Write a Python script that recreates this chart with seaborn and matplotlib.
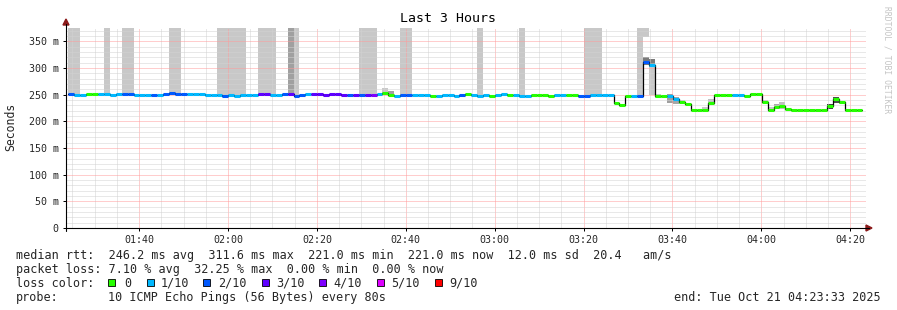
import numpy as np
import pandas as pd
import matplotlib
matplotlib.use("Agg")
import matplotlib.pyplot as plt
from matplotlib.patches import Rectangle, Polygon
from matplotlib.lines import Line2D
import seaborn as sns

# ---------------- data ----------------
start_min = 83 + 33 / 60          # 01:23:33 (minutes since midnight)
end_min = start_min + 180         # 04:23:33
step_min = 80 / 60                # 80 s probe step
first_step = start_min + 32 / 60

median_ms = [252, 250, 250, 251, 252, 251, 251, 249, 251, 251,
             251, 250, 250, 250, 249, 250, 251, 253, 251, 251,
             252, 252, 252, 250, 250, 250, 248, 250, 248, 249,
             249, 249, 251, 252, 250, 250, 251, 251, 248, 249,
             251, 251, 251, 250, 251, 251, 250, 250, 250, 250,
             250, 250, 251, 253, 250, 248, 249, 249, 249, 249,
             249, 248, 248, 250, 250, 248, 250, 252, 250, 248,
             250, 248, 250, 252, 250, 250, 248, 247, 249, 250,
             250, 248, 249, 250, 249, 249, 247, 247, 249, 249,
             249, 250, 234, 231, 248, 248, 248, 312, 306, 247,
             247, 247, 242, 237, 233, 221, 221, 221, 235, 250,
             250, 250, 250, 250, 247, 252, 252, 236, 221, 227,
             229, 224, 221, 221, 221, 221, 221, 221, 228, 242,
             236, 221, 221, 221]
loss = [2, 1, 1, 0, 0, 1, 1, 1, 1, 2,
        2, 1, 1, 1, 2, 1, 2, 2, 2, 2,
        1, 1, 1, 1, 1, 1, 2, 1, 1, 1,
        1, 1, 3, 3, 1, 1, 2, 3, 2, 2,
        1, 3, 3, 3, 3, 3, 3, 2, 3, 2,
        3, 4, 1, 0, 0, 1, 2, 2, 1, 1,
        1, 0, 1, 1, 1, 1, 2, 0, 1, 1,
        1, 0, 1, 1, 0, 1, 1, 1, 0, 0,
        0, 0, 1, 1, 0, 0, 2, 2, 1, 1,
        1, 1, 0, 0, 0, 1, 2, 2, 1, 0,
        0, 1, 1, 0, 0, 0, 0, 0, 0, 0,
        0, 0, 1, 1, 0, 0, 0, 0, 0, 0,
        0, 0, 0, 0, 0, 0, 0, 0, 0, 0,
        0, 0, 0, 0]

# steps where the slowest pings go off the top of the graph
high_steps = [0, 1, 6, 9, 10, 17, 18, 25, 26, 27, 28, 29, 32, 33, 34, 37, 38,
              49, 50, 51, 56, 57, 69, 76, 87, 88, 89, 96]
high_dark = [37]
# smoke patches: step, low ms, high ms, shade
smoke_step = [53, 54, 97, 97, 98, 98, 99, 101, 102, 103, 107, 108, 117, 118,
              119, 120, 128, 129, 130]
smoke_lo = [250, 250, 358, 305, 302, 250, 243, 234, 232, 232, 221, 235, 234,
            221, 223, 224, 223, 234, 232]
smoke_hi = [262, 257, 376, 321, 316, 302, 251, 251, 246, 240, 226, 242, 240,
            227, 232, 237, 232, 246, 238]
smoke_shade = ["#c8c8c8", "#a0a0a0", "#c8c8c8", "#7a7a7a", "#7a7a7a", "#c8c8c8",
               "#c8c8c8", "#a0a0a0", "#a8a8a8", "#c8c8c8", "#c8c8c8", "#c0c0c0",
               "#c0c0c0", "#c8c8c8", "#a8a8a8", "#c0c0c0", "#404040", "#505050",
               "#b0b0b0"]

loss_labels = ["0", "1/10", "2/10", "3/10", "4/10", "5/10", "9/10"]
loss_colors = ["#26ff00", "#00b8ff", "#0059ff", "#5e00ff", "#7e00ff", "#dd00ff", "#ff0000"]
loss_level_index = [0, 1, 2, 3, 4, 5, 9]

x_tick_min = [100, 120, 140, 160, 180, 200, 220, 240, 260]
x_tick_labels = ["01:40", "02:00", "02:20", "02:40", "03:00", "03:20", "03:40", "04:00", "04:20"]
y_ticks = [0, 50, 100, 150, 200, 250, 300, 350]
y_tick_labels = ["0", "50 m", "100 m", "150 m", "200 m", "250 m", "300 m", "350 m"]
y_top = 375

# ---------------- figure ----------------
sns.set_theme(style="white")
plt.rcParams["font.family"] = ["DejaVu Sans Mono", "DejaVu Sans"]

W, H = 897, 310
fig = plt.figure(figsize=(W / 100, H / 100), dpi=100)
fig.patch.set_facecolor("white")
ax = fig.add_axes([66 / W, (H - 228) / H, 800 / W, 200 / H])
ax.set_facecolor("white")


def fx(px):
    return px / W


def fy(py):
    return 1 - py / H


steps = first_step + np.arange(len(median_ms)) * step_min

# tall smoke bars
for k in high_steps:
    ax.bar(steps[k], y_top + 10 - median_ms[k], bottom=median_ms[k], width=step_min,
           align="edge", color="#a0a0a0" if k in high_dark else "#c8c8c8",
           linewidth=0, zorder=1)
# smaller smoke
for k, lo, hi, c in zip(smoke_step, smoke_lo, smoke_hi, smoke_shade):
    ax.bar(steps[k], hi - lo, bottom=lo, width=step_min, align="edge",
           color=c, linewidth=0, zorder=1.2)

# median line (black) via seaborn
df = pd.DataFrame({"t": np.append(steps, steps[-1] + step_min),
                   "ms": median_ms + [median_ms[-1]]})
sns.lineplot(data=df, x="t", y="ms", drawstyle="steps-post", color="black",
             lw=0.9, ax=ax, zorder=3, estimator=None)
# loss-coloured median segments
cols = [loss_colors[loss_level_index.index(l)] for l in loss]
ax.hlines(median_ms, steps, steps + step_min, colors=cols, lw=2.2, zorder=4)

ax.set_xlim(start_min, end_min)
ax.set_ylim(0, y_top)
ax.set_xlabel("")
ax.set_ylabel("")

ax.set_xticks(x_tick_min)
ax.set_xticklabels(x_tick_labels)
ax.set_xticks(np.arange(85, 264, 5), minor=True)
ax.set_yticks(y_ticks)
ax.set_yticklabels(y_tick_labels)
ax.set_yticks(np.arange(0, 371, 10), minor=True)

ax.tick_params(axis="both", which="major", labelsize=7.2, length=2.2, width=0.72,
               color="black", pad=3, direction="out", bottom=True, left=True)
ax.tick_params(axis="both", which="minor", length=0)

ax.set_axisbelow(False)
ax.grid(which="minor", color="#d2d2d2", linestyle=(0, (1, 1)), lw=0.72, zorder=2.5)
ax.grid(which="major", color="#ff9c9c", linestyle=(0, (1, 1)), lw=0.72, zorder=2.6)

for s in ax.spines.values():
    s.set_visible(False)

# axes lines and arrows
fig.add_artist(Line2D([fx(66), fx(869)], [fy(228), fy(228)], color="black", lw=0.8))
fig.add_artist(Line2D([fx(66), fx(66)], [fy(231), fy(24)], color="black", lw=0.8))
fig.add_artist(Polygon([[fx(866), fy(225)], [fx(866), fy(231)], [fx(872), fy(228)]],
                       closed=True, color="#8b1a1a", transform=fig.transFigure))
fig.add_artist(Polygon([[fx(63), fy(25)], [fx(69), fy(25)], [fx(66), fy(19)]],
                       closed=True, color="#8b1a1a", transform=fig.transFigure))

# titles
fig.text(fx(448), fy(19), "Last 3 Hours", ha="center", va="center", fontsize=9.5, color="black")
fig.text(fx(11), fy(127), "Seconds", rotation=90, ha="center", va="center", fontsize=8.3)
fig.text(fx(887), fy(60), "RRDTOOL / TOBI OETIKER", rotation=270, ha="center", va="center",
         fontsize=5.8, color="#c4c4c4")

# legend area
fs = 8.5
row_base = [258.5, 272.5, 286.8, 300.8]
fig.text(fx(16), fy(row_base[0]),
         "median rtt:  246.2 ms avg  311.6 ms max  221.0 ms min  221.0 ms now  12.0 ms sd  20.4   am/s",
         ha="left", va="baseline", fontsize=fs)
fig.text(fx(16), fy(row_base[1]),
         "packet loss: 7.10 % avg  32.25 % max  0.00 % min  0.00 % now",
         ha="left", va="baseline", fontsize=fs)
fig.text(fx(16), fy(row_base[2]), "loss color:", ha="left", va="baseline", fontsize=fs)
sq_x = [108, 147, 203, 262, 319, 377, 435]
lab_x = [124, 160.7, 218, 276, 333, 391, 449]
for sx, lx, lab, col in zip(sq_x, lab_x, loss_labels, loss_colors):
    fig.add_artist(Rectangle((fx(sx), fy(286)), 7 / W, 7 / H, facecolor=col,
                             edgecolor="black", lw=0.6, transform=fig.transFigure))
    fig.text(fx(lx), fy(row_base[2]), lab, ha="left", va="baseline", fontsize=fs)
fig.text(fx(16), fy(row_base[3]), "probe:", ha="left", va="baseline", fontsize=fs)
fig.text(fx(108.3), fy(row_base[3]), "10 ICMP Echo Pings (56 Bytes) every 80s",
         ha="left", va="baseline", fontsize=fs)
fig.text(fx(881), fy(row_base[3]), "end: Tue Oct 21 04:23:33 2025",
         ha="right", va="baseline", fontsize=fs)

fig.savefig("out.png", dpi=100, facecolor="white")
